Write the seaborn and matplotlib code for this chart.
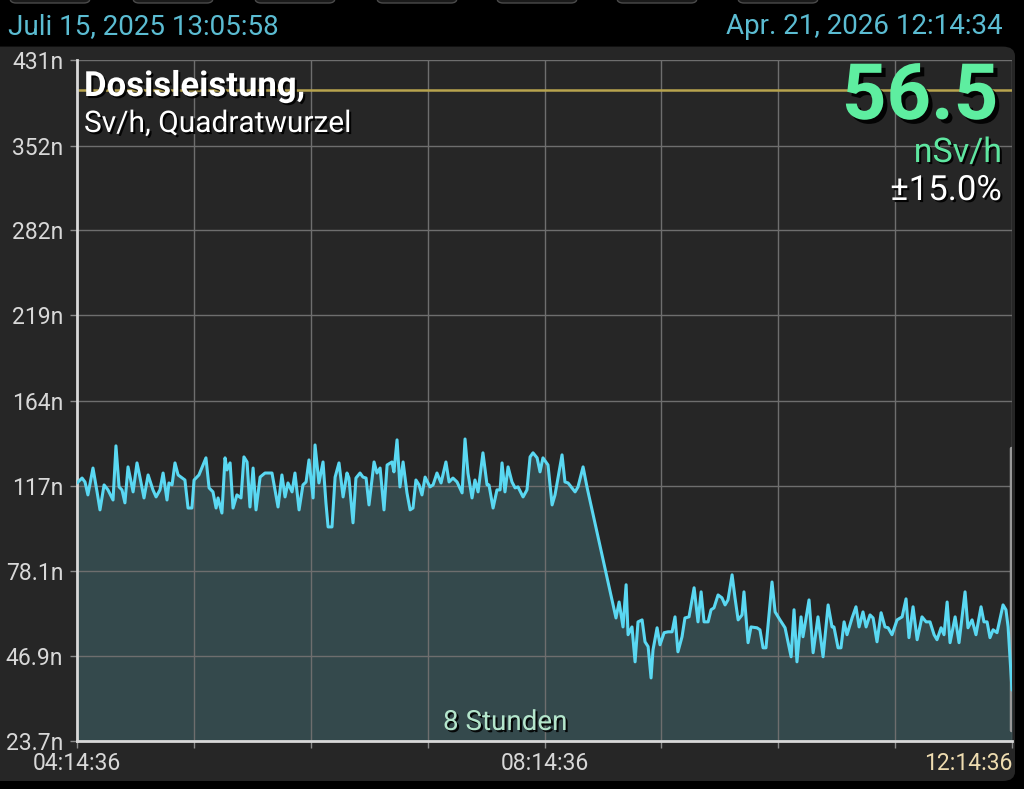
import numpy as np
import pandas as pd
import matplotlib
matplotlib.use("Agg")
import matplotlib.pyplot as plt
import matplotlib.patheffects as pe
from matplotlib.patches import FancyBboxPatch
import seaborn as sns

# minutes after 04:14:36
minutes = [
    0.0, 2.6, 4.1, 5.6, 8.2, 10.3, 11.8, 13.9, 15.9, 18.5,
    20.0, 21.6, 23.1, 24.6, 26.2, 28.8, 30.8, 32.3, 34.4, 36.5,
    39.0, 40.6, 42.6, 44.2, 46.2, 47.2, 48.8, 50.3, 51.9, 55.4,
    57.0, 59.0, 60.1, 62.6, 66.2, 67.8, 69.8, 71.4, 72.4, 74.4,
    76.0, 77.0, 78.6, 80.1, 82.1, 84.2, 85.7, 87.3, 88.8, 90.4,
    91.9, 94.0, 96.5, 100.1, 103.2, 105.2, 106.8, 108.3, 110.4, 111.9,
    114.0, 116.0, 117.6, 119.1, 121.2, 122.2, 124.2, 126.3, 127.8, 128.9,
    130.9, 132.5, 134.5, 136.6, 138.6, 139.6, 141.7, 143.2, 145.3, 146.8,
    148.4, 149.9, 152.5, 154.0, 155.6, 157.6, 159.2, 161.7, 162.7, 164.3,
    165.8, 167.4, 169.4, 171.0, 172.5, 174.0, 175.6, 177.1, 178.7, 181.2,
    182.8, 184.8, 186.9, 189.4, 191.0, 193.0, 195.1, 197.7, 199.2, 200.7,
    202.8, 204.3, 205.9, 208.4, 210.5, 211.5, 213.6, 215.6, 217.2, 218.2,
    219.7, 221.3, 223.3, 224.9, 226.4, 229.0, 231.0, 232.6, 234.1, 236.2,
    237.7, 239.2, 241.8, 243.9, 245.4, 249.0, 250.5, 252.1, 255.7, 257.2,
    259.8, 261.8,
    276.7, 278.3, 280.3, 281.9, 282.9, 284.9, 286.5, 288.0,
    290.1, 291.6, 293.2, 294.7, 295.7, 297.8, 299.3, 301.4, 303.4, 305.5,
    307.0, 308.5, 310.6, 312.1, 314.2, 316.8, 318.8, 320.4, 321.9, 324.0,
    325.5, 327.0, 329.1, 331.1, 332.7, 334.2, 336.3, 337.8, 339.4, 341.4,
    342.4, 344.5, 346.0, 349.1, 350.6, 352.2, 353.7, 356.8, 358.4, 360.9,
    363.5, 366.6, 368.1, 369.6, 371.7, 372.7, 375.8, 377.9, 380.4, 383.0,
    385.6, 387.6, 388.6, 390.7, 392.2, 393.8, 395.3, 397.9, 399.9, 401.5,
    403.5, 405.1, 407.1, 408.7, 410.7, 412.8, 414.8, 416.4, 418.4, 421.0,
    423.6, 425.6, 427.1, 429.2, 431.3, 433.8, 435.9, 437.9, 440.0, 441.5,
    443.6, 445.1, 446.7, 448.2, 450.8, 452.8, 455.9, 457.4, 459.5, 461.5,
    464.1, 465.6, 467.2, 468.7, 470.3, 472.3, 475.4, 476.9, 478.0, 480.0,
]

# dose rate in nSv/h
dose_nsv = [
    118.6, 121.1, 119.1, 112.6, 126.3, 114.1, 105.3, 117.6, 115.1, 110.1,
    138.2, 116.6, 115.1, 108.7, 126.9, 114.1, 129.0, 121.6, 111.1, 122.7,
    115.1, 111.6, 115.1, 123.7, 110.1, 118.6, 117.6, 129.0, 122.7, 120.1,
    106.2, 106.2, 120.1, 122.7, 131.7, 116.1, 114.1, 106.2, 111.1, 103.8,
    131.7, 125.3, 129.0, 106.2, 112.6, 111.1, 132.2, 129.5, 106.7, 126.3,
    105.3, 121.6, 123.7, 123.7, 106.7, 122.7, 111.6, 118.6, 114.1, 123.7,
    105.3, 117.6, 119.1, 130.6, 111.1, 138.7, 118.6, 129.5, 108.7, 97.3,
    97.3, 121.6, 129.0, 111.6, 123.7, 121.1, 99.2, 121.1, 123.7, 121.6,
    121.1, 107.7, 129.5, 123.7, 126.3, 105.3, 127.9, 129.5, 124.3, 141.5,
    116.6, 129.5, 113.6, 105.3, 106.2, 120.1, 117.6, 112.6, 121.6, 116.6,
    117.6, 123.7, 118.6, 129.5, 119.1, 121.1, 119.1, 113.6, 142.0, 123.7,
    111.1, 120.1, 114.1, 134.4, 117.6, 117.6, 106.2, 115.1, 115.1, 129.0,
    114.1, 126.9, 119.1, 116.1, 116.6, 111.6, 115.1, 132.2, 134.4, 131.7,
    124.3, 131.7, 127.9, 107.7, 112.6, 133.3, 119.1, 118.6, 114.1, 116.6,
    126.9, 116.6,
    59.9, 65.8, 56.7, 72.5, 54.0, 56.7, 45.1, 58.5,
    59.2, 51.6, 50.0, 40.2, 48.9, 56.4, 50.6, 54.7, 55.0, 55.0,
    60.3, 48.3, 53.3, 59.9, 60.3, 71.3, 58.5, 69.7, 58.5, 58.5,
    62.9, 63.6, 68.5, 67.4, 64.7, 66.6, 76.5, 67.4, 59.2, 61.0,
    69.7, 51.3, 56.7, 56.4, 55.7, 49.6, 49.6, 73.6, 62.1, 59.2,
    56.4, 46.7, 62.9, 45.1, 60.3, 53.3, 66.6, 48.0, 60.3, 46.7,
    64.7, 56.7, 56.7, 49.6, 49.6, 58.5, 54.0, 59.9, 64.0, 56.7,
    62.1, 56.7, 61.0, 59.9, 51.6, 61.8, 56.7, 56.4, 54.0, 59.2,
    60.3, 67.0, 53.0, 64.0, 52.3, 60.3, 58.5, 58.5, 54.0, 52.3,
    56.4, 54.0, 65.8, 51.3, 60.3, 51.3, 69.7, 56.4, 59.2, 54.0,
    64.0, 58.5, 58.5, 53.0, 55.7, 54.7, 64.7, 62.9, 56.7, 36.7,
]

y_ticks = [23.7, 46.9, 78.1, 117, 164, 219, 282, 352, 431]
y_labels = ["23.7n", "46.9n", "78.1n", "117n", "164n", "219n", "282n", "352n", "431n"]
x_ticks = [0, 60, 120, 180, 240, 300, 360, 420, 480]
x_labels = ["04:14:36", "", "", "", "08:14:36", "", "", "", "12:14:36"]
alarm_level = 402

sns.set_theme(style="dark")
plt.rcParams["font.family"] = ["Roboto", "DejaVu Sans"]

W, H = 1024, 789
fig = plt.figure(figsize=(W / 100, H / 100), dpi=100, facecolor="black")

# rounded dark panel and the tab stubs at the top edge
fig.add_artist(FancyBboxPatch((-0.02, 8 / H), 1015 / W + 0.02, (781 - 45) / H - 0.002,
                              boxstyle="round,pad=0,rounding_size=0.012",
                              transform=fig.transFigure, fc="#262626", ec="none", zorder=-5))
for x0 in [10, 133, 255, 377, 497, 617, 738]:
    fig.add_artist(FancyBboxPatch((x0 / W, 1 - 3 / H), 80 / W, 0.05,
                                  boxstyle="round,pad=0,rounding_size=0.006",
                                  transform=fig.transFigure, fc="#1a1a1a", ec="#4a4a4a",
                                  lw=1, zorder=-5))

ax = fig.add_axes([77 / W, 1 - 741 / H, (1012 - 77) / W, (741 - 60) / H])
ax.set_facecolor("#262626")

df = pd.DataFrame({"minutes": minutes, "dose": dose_nsv})

ax.set_yscale("function", functions=(lambda v: np.sqrt(np.clip(v, 0, None)), np.square))
ax.fill_between(df["minutes"], df["dose"], y_ticks[0], color="#34494c", lw=0, zorder=1)
ax.axvline(479.6, ymin=0.016, ymax=0.43, color="#9a9a9a", lw=2.5, zorder=1.6)
sns.lineplot(data=df, x="minutes", y="dose", ax=ax, color="#5ad8f2", lw=2.2,
             estimator=None, zorder=3)
ax.axhline(alarm_level, color="#b8a44e", lw=1.8, zorder=2)

ax.set_xlim(0, 480)
ax.set_ylim(y_ticks[0], y_ticks[-1])
ax.set_xticks(x_ticks, x_labels)
ax.set_yticks(y_ticks, y_labels)
ax.set_xlabel("")
ax.set_ylabel("")

ax.grid(True, color="#6e6e6e", lw=1)
ax.set_axisbelow("line")
for side in ["top", "right"]:
    ax.spines[side].set_visible(False)
for side in ["left", "bottom"]:
    ax.spines[side].set_visible(True)
    ax.spines[side].set_color("#d8d8d8")
    ax.spines[side].set_linewidth(2)

ax.tick_params(axis="both", bottom=True, left=True, length=5, width=1, color="#8a8a8a",
               labelcolor="#d8d8d8", labelsize=16.5, direction="out")
ax.tick_params(axis="y", pad=5)
ax.tick_params(axis="x", pad=3)
last = ax.get_xticklabels()[-1]
last.set_ha("right")
last.set_color("#eedcb0")

shadow = [pe.SimplePatchShadow(offset=(1.5, -1.5), shadow_rgbFace="black", alpha=0.9), pe.Normal()]

date_color = "#5bbcd2"
fig.text(8 / W, 1 - 27 / H, "Juli 15, 2025 13:05:58", color=date_color, fontsize=20,
         ha="left", va="center")
fig.text(1003 / W, 1 - 27 / H, "Apr. 21, 2026 12:14:34", color=date_color, fontsize=20,
         ha="right", va="center")

fig.text(84 / W, 1 - 96 / H, "Dosisleistung,", color="white", fontsize=25,
         fontweight="bold", ha="left", va="baseline", path_effects=shadow)
fig.text(84 / W, 1 - 132 / H, "Sv/h, Quadratwurzel", color="white", fontsize=21.5,
         ha="left", va="baseline", path_effects=shadow)

fig.text(998 / W, 1 - 119 / H, "56.5", color="#5eeea0", fontsize=56,
         fontweight="bold", ha="right", va="baseline",
         path_effects=[pe.SimplePatchShadow(offset=(3, -3), shadow_rgbFace="black", alpha=0.9),
                       pe.Normal()])
fig.text(1002 / W, 1 - 162 / H, "nSv/h", color="#5ee6a0", fontsize=24.5,
         ha="right", va="baseline", path_effects=shadow)
fig.text(1002 / W, 1 - 200 / H, "±15.0%", color="white", fontsize=25,
         ha="right", va="baseline", path_effects=shadow)

fig.text(505 / W, 1 - 730 / H, "8 Stunden", color="#b4e6cc", fontsize=20,
         ha="center", va="baseline", path_effects=shadow)

fig.savefig("out.png", dpi=100, facecolor="black")
